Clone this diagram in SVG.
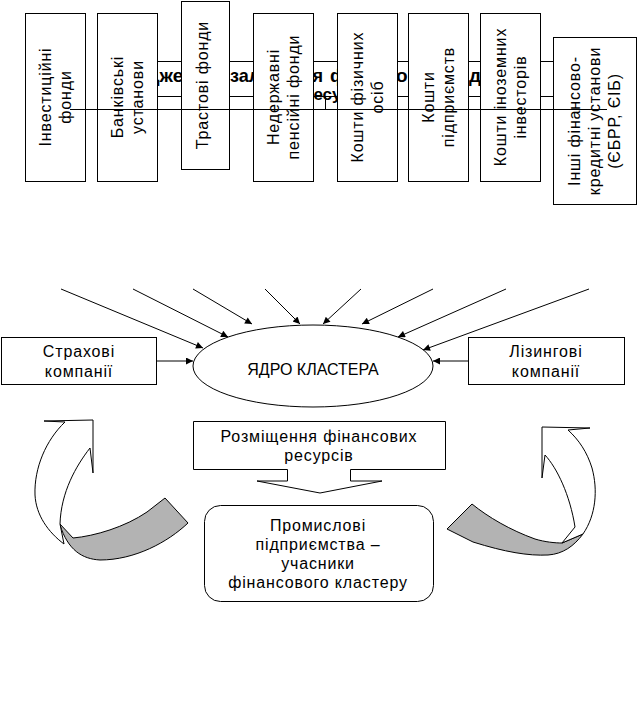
<svg xmlns="http://www.w3.org/2000/svg" width="643" height="703" viewBox="0 0 643 703">
<defs>
<marker id="ah" viewBox="0 0 10 10" refX="10" refY="5" markerWidth="9" markerHeight="7" markerUnits="userSpaceOnUse" orient="auto">
<path d="M0,0 L10,5 L0,10 Z" fill="#000"/>
</marker>
<style>
.b{fill:#fff;stroke:#000;stroke-width:1}
.t{font-family:"Liberation Sans",Arial,sans-serif;font-size:16px;fill:#000;text-anchor:middle;letter-spacing:0.85px}
.h{font-family:"Liberation Sans",Arial,sans-serif;font-size:19px;font-weight:bold;fill:#000}
.c{fill:none;stroke:#000;stroke-width:1}
.a{fill:none;stroke:#000;stroke-width:1;marker-end:url(#ah)}
.g{fill:#b3b3b3;stroke:#000;stroke-width:1}
.w{fill:#fff;stroke:#000;stroke-width:1}
</style>
</defs>
<rect width="643" height="703" fill="#fff"/>

<g id="title">
<rect class="b" x="150.5" y="61.5" width="408" height="35"/>
<text class="h" y="82"><tspan x="146">Джерела</tspan><tspan x="230" textLength="93" lengthAdjust="spacingAndGlyphs">залучення</tspan><tspan x="330">фінансових</tspan><tspan x="469">для</tspan></text>
<text class="h" x="303" y="100" style="font-size:17px">ресурсів</text>
</g>

<g id="src1"><rect class="b" x="25.5" y="13.5" width="60" height="168"/>
<text class="t" transform="translate(55,97) rotate(-90)"><tspan x="0" y="-4.5">Інвестиційні</tspan><tspan x="0" y="15.5">фонди</tspan></text></g>
<g id="src2"><rect class="b" x="97.5" y="13.5" width="60" height="168"/>
<text class="t" transform="translate(127,97) rotate(-90)"><tspan x="0" y="-4.5">Банківські</tspan><tspan x="0" y="15.5">установи</tspan></text></g>
<g id="src3"><rect class="b" x="181.5" y="1.5" width="48" height="168"/>
<text class="t" transform="translate(205,85) rotate(-90)"><tspan x="0" y="3">Трастові фонди</tspan></text></g>
<g id="src4"><rect class="b" x="253.5" y="13.5" width="60" height="168"/>
<text class="t" transform="translate(283,97) rotate(-90)"><tspan x="0" y="-4.5">Недержавні</tspan><tspan x="0" y="15.5">пенсійні фонди</tspan></text></g>
<g id="src5"><rect class="b" x="337.5" y="13.5" width="60" height="168"/>
<text class="t" transform="translate(367,97) rotate(-90)"><tspan x="0" y="-4.5">Кошти фізичних</tspan><tspan x="0" y="15.5">осіб</tspan></text></g>
<g id="src6"><rect class="b" x="408.5" y="13.5" width="60" height="168"/>
<text class="t" transform="translate(438,97) rotate(-90)"><tspan x="0" y="-4.5">Кошти</tspan><tspan x="0" y="15.5">підприємств</tspan></text></g>
<g id="src7"><rect class="b" x="480.5" y="13.5" width="60" height="168"/>
<text class="t" transform="translate(510,97) rotate(-90)"><tspan x="0" y="-4.5">Кошти іноземних</tspan><tspan x="0" y="15.5">інвесторів</tspan></text></g>
<g id="src8"><rect class="b" x="553.5" y="37.5" width="83" height="167"/>
<text class="t" transform="translate(595,121) rotate(-90)"><tspan x="0" y="-15">Інші фінансово-</tspan><tspan x="0" y="5">кредитні установи</tspan><tspan x="0" y="25">(ЄБРР, ЄІБ)</tspan></text></g>

<g id="core">
<ellipse class="b" cx="313" cy="366" rx="120" ry="41"/>
<text class="t" x="313" y="374.5" style="letter-spacing:0">ЯДРО КЛАСТЕРА</text>
</g>
<g id="insurance"><rect class="b" x="1.5" y="337.5" width="155" height="47"/>
<text class="t" x="79" y="357">Страхові</text><text class="t" x="79" y="377">компанії</text></g>
<g id="leasing"><rect class="b" x="468.5" y="337.5" width="156" height="47"/>
<text class="t" x="546" y="357">Лізингові</text><text class="t" x="546" y="377">компанії</text></g>

<g id="placement">
<path class="b" d="M193.5,421.5 H445.5 V469.5 H350.5 V481 H382 L320,493 L257,481 H287.5 V469.5 H193.5 Z"/>
<text class="t" x="319" y="442">Розміщення фінансових</text>
<text class="t" x="319" y="461">ресурсів</text>
</g>

<g id="industry">
<rect class="b" x="204.5" y="505.5" width="229" height="96" rx="16" ry="16"/>
<text class="t" x="318" y="531">Промислові</text>
<text class="t" x="318" y="550">підприємства –</text>
<text class="t" x="318" y="569">учасники</text>
<text class="t" x="318" y="588">фінансового кластеру</text>
</g>

<g id="curved-left">
<path class="g" d="M60,524 L73,538 C95,536 125,527 147,512 L165,498 L188,523 C168,542 135,560 100,560 C82,559 68,550 60,525 Z"/>
<path class="w" d="M44,421 L93,420 L93,473 L90,448 C76,466 61,492 60,524 L64,544 C48,532 36,515 35,495 C34,468 46,440 65,422 Z"/>
</g>
<g id="curved-right">
<path class="g" d="M447,529 L472,504 C488,517 510,530 535,539 C545,542 555,543 562,543 L583,534 C574,546 563,554 548,555 C528,556 505,552 473,542 Z"/>
<path class="w" d="M590,428 L542,427 L542,478 L545,455 C557,468 570,495 575,527 L562,543 L583,534 C596,515 598,490 592,468 C587,452 579,440 568,430 Z"/>
</g>

<g id="connectors">
<line class="c" x1="70" y1="109.5" x2="607" y2="109.5"/>
<line class="c" x1="325.5" y1="97" x2="325.5" y2="109.5"/>
<line class="a" x1="61" y1="289" x2="203" y2="348"/>
<line class="a" x1="133" y1="289" x2="228" y2="337"/>
<line class="a" x1="193" y1="289" x2="252" y2="324"/>
<line class="a" x1="265" y1="289" x2="300" y2="324"/>
<line class="a" x1="361" y1="289" x2="323" y2="324"/>
<line class="a" x1="433" y1="289" x2="362" y2="324"/>
<line class="a" x1="506" y1="289" x2="398" y2="337"/>
<line class="a" x1="589" y1="289" x2="423" y2="350"/>
<line class="a" x1="157" y1="361" x2="193" y2="361"/>
<line class="a" x1="468" y1="361" x2="433" y2="361"/>
</g>
</svg>
